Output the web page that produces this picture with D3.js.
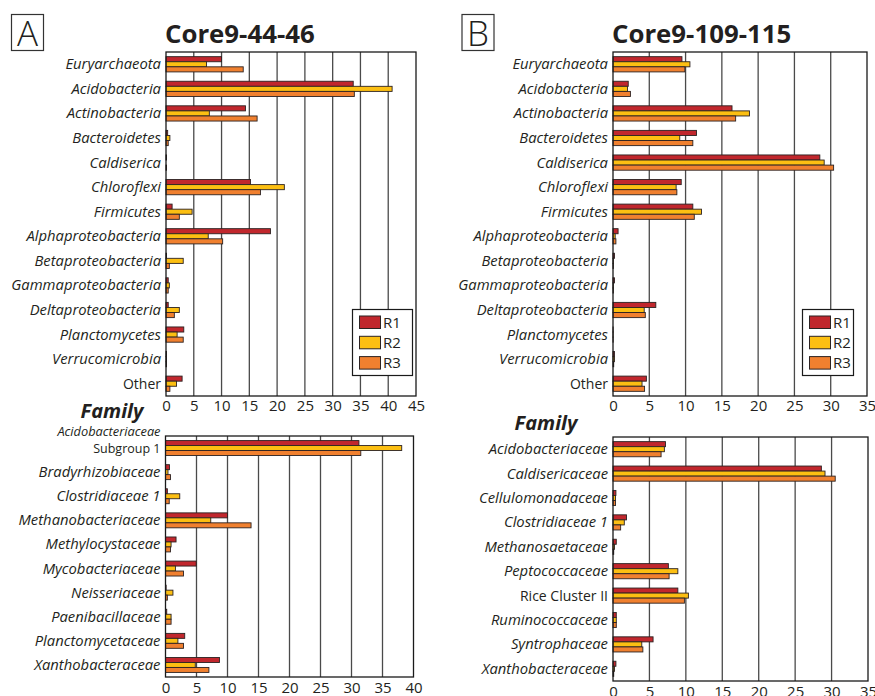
<!DOCTYPE html>
<html>
<head>
<meta charset="utf-8">
<script src="https://cdn.jsdelivr.net/npm/d3@7"></script>
<style>
	body { margin: 0; background: #fff; }
	svg { display: block; font-family: "Open Sans", sans-serif; }
</style>
</head>
<body>
<svg id="svg" width="875" height="696"></svg>
<script>
"use strict";

// replicates shown in every group
const series = ["R1", "R2", "R3"];
const seriesColors = ["#c1272d", "#fcbf12", "#f0802f"];

// phylum / class level categories (same for both cores)
const phyla = [
	"Euryarchaeota",
	"Acidobacteria",
	"Actinobacteria",
	"Bacteroidetes",
	"Caldiserica",
	"Chloroflexi",
	"Firmicutes",
	"Alphaproteobacteria",
	"Betaproteobacteria",
	"Gammaproteobacteria",
	"Deltaproteobacteria",
	"Planctomycetes",
	"Verrucomicrobia",
	"Other",
];

// core 9-44-46, phylum level (%)
const phylaA_R1 = [10.0, 33.7, 14.3, 0.3, 0.1, 15.2, 1.1, 18.8, 0.1, 0.4, 0.4, 3.2, 0.1, 2.9];
const phylaA_R2 = [7.3, 40.7, 7.8, 0.7, 0.0, 21.3, 4.7, 7.6, 3.1, 0.6, 2.4, 2.0, 0.1, 1.9];
const phylaA_R3 = [13.9, 33.9, 16.4, 0.4, 0.1, 17.0, 2.4, 10.2, 0.6, 0.4, 1.5, 3.1, 0.1, 0.7];

// core 9-109-115, phylum level (%)
const phylaB_R1 = [9.5, 2.1, 16.4, 11.5, 28.5, 9.4, 11.0, 0.7, 0.2, 0.2, 5.9, 0.02, 0.2, 4.6];
const phylaB_R2 = [10.6, 2.0, 18.8, 9.2, 29.1, 8.7, 12.2, 0.3, 0.05, 0.05, 4.3, 0.02, 0.2, 4.0];
const phylaB_R3 = [9.9, 2.4, 16.9, 11.0, 30.4, 8.8, 11.2, 0.4, 0.05, 0.05, 4.45, 0.02, 0.1, 4.35];

// core 9-44-46, family level (%)
const familiesA = [
	"Acidobacteriaceae Subgroup 1",
	"Bradyrhizobiaceae",
	"Clostridiaceae 1",
	"Methanobacteriaceae",
	"Methylocystaceae",
	"Mycobacteriaceae",
	"Neisseriaceae",
	"Paenibacillaceae",
	"Planctomycetaceae",
	"Xanthobacteraceae",
];
const familiesA_R1 = [31.2, 0.65, 0.3, 10.0, 1.7, 4.95, 0.1, 0.2, 3.1, 8.7];
const familiesA_R2 = [38.1, 0.4, 2.3, 7.3, 0.9, 1.6, 1.2, 0.9, 2.0, 4.8];
const familiesA_R3 = [31.5, 0.8, 0.6, 13.8, 0.8, 2.9, 0.3, 0.9, 2.9, 7.0];

// core 9-109-115, family level (%)
const familiesB = [
	"Acidobacteriaceae",
	"Caldisericaceae",
	"Cellulomonadaceae",
	"Clostridiaceae 1",
	"Methanosaetaceae",
	"Peptococcaceae",
	"Rice Cluster II",
	"Ruminococcaceae",
	"Syntrophaceae",
	"Xanthobacteraceae",
];
const familiesB_R1 = [7.2, 28.6, 0.4, 1.85, 0.45, 7.6, 8.9, 0.45, 5.5, 0.4];
const familiesB_R2 = [7.05, 29.1, 0.35, 1.55, 0.2, 8.9, 10.35, 0.45, 3.95, 0.2];
const familiesB_R3 = [6.6, 30.5, 0.35, 1.05, 0.1, 7.7, 9.8, 0.45, 4.1, 0.1];

// labels that are not set in italics
const uprightLabels = ["Other", "Rice Cluster II"];

const ink = "#231f20";
const svg = d3.select("#svg");

svg.append("rect").attr("width", 875).attr("height", 696).attr("fill", "#fff");

function drawPanel(sel, params) {
	const g = sel.append("g");

	const x = d3
		.scaleLinear()
		.domain([0, params.max])
		.range([params.x0, params.x1]);
	const y = d3
		.scaleBand()
		.domain(params.cats)
		.range([params.y0, params.y1])
		.paddingInner(0.38)
		.paddingOuter(0.19);
	const ys = d3.scaleBand().domain(series).range([0, y.bandwidth()]);

	const tickVals = d3.range(0, params.max + 1, 5);

	// vertical gridlines
	g.selectAll(".grid")
		.data(tickVals.filter((d) => d > 0 && d < params.max))
		.enter()
		.append("line")
		.attr("x1", (d) => x(d))
		.attr("x2", (d) => x(d))
		.attr("y1", params.y0)
		.attr("y2", params.y1)
		.style("stroke", "#4a4a4a")
		.style("stroke-width", "1.3px");

	// bars, one row per replicate
	const rows = params.cats.flatMap((c, i) =>
		series.map((s, j) => ({ cat: c, s: s, j: j, v: params.values[j][i] }))
	);
	g.selectAll(".bar")
		.data(rows)
		.enter()
		.append("rect")
		.attr("class", "bar")
		.attr("x", x(0))
		.attr("y", (d) => y(d.cat) + ys(d.s))
		.attr("width", (d) => x(d.v) - x(0))
		.attr("height", ys.bandwidth())
		.attr("fill", (d) => seriesColors[d.j])
		.style("stroke", "#2b2222")
		.style("stroke-width", "0.9px");

	// frame
	g.append("rect")
		.attr("x", params.x0)
		.attr("y", params.y0)
		.attr("width", params.x1 - params.x0)
		.attr("height", params.y1 - params.y0)
		.attr("fill", "none")
		.style("stroke", "#1a1a1a")
		.style("stroke-width", "1.3px");

	// axis numbers
	const axis = g
		.append("g")
		.attr("transform", `translate(0,${params.y1})`)
		.call(
			d3
				.axisBottom(x)
				.tickValues(tickVals)
				.tickSize(0)
				.tickPadding(params.pad)
		);
	axis.select(".domain").remove();
	axis.selectAll("text")
		.attr("fill", ink)
		.style("font-size", "15px")
		.style("font-family", '"Open Sans", sans-serif');

	// category labels
	params.cats.forEach((c) => {
		const cy = y(c) + y.bandwidth() / 2;
		const lx = params.x0 - 5;
		if (c.includes(" Subgroup")) {
			const parts = c.split(" Subgroup");
			g.append("text")
				.text(parts[0])
				.attr("x", lx)
				.attr("y", cy - 12)
				.attr("text-anchor", "end")
				.attr("font-style", "italic")
				.attr("font-size", "12.8px")
				.attr("fill", ink);
			g.append("text")
				.text("Subgroup" + parts[1])
				.attr("x", lx)
				.attr("y", cy + 5)
				.attr("text-anchor", "end")
				.attr("font-size", "12.5px")
				.attr("fill", ink);
		} else {
			const upright = uprightLabels.includes(c);
			g.append("text")
				.text(c)
				.attr("x", lx)
				.attr("y", cy + 5)
				.attr("text-anchor", "end")
				.attr("font-style", upright ? "normal" : "italic")
				.attr("font-size", upright ? "14px" : "14.8px")
				.attr("fill", ink);
		}
	});

	if (params.legend) drawLegend(g, params.legend);
}

function drawLegend(g, pos) {
	const legend = g
		.append("g")
		.attr("transform", `translate(${pos[0]},${pos[1]})`);
	legend
		.append("rect")
		.attr("width", pos[2])
		.attr("height", 66)
		.attr("fill", "#fff")
		.style("stroke", "#1a1a1a")
		.style("stroke-width", "1.2px");
	series.forEach((s, i) => {
		legend
			.append("rect")
			.attr("x", 7)
			.attr("y", 6.5 + i * 20.3)
			.attr("width", 21)
			.attr("height", 12.5)
			.attr("fill", seriesColors[i])
			.style("stroke", "#2b2222")
			.style("stroke-width", "1px");
		legend
			.append("text")
			.text(s)
			.attr("x", 30.5)
			.attr("y", 18 + i * 20)
			.attr("font-size", "15px")
			.attr("fill", ink);
	});
}

function panelHeader(letter, title, bx, tx) {
	svg.append("rect")
		.attr("x", bx)
		.attr("y", 14.5)
		.attr("width", 32)
		.attr("height", 36)
		.attr("fill", "none")
		.style("stroke", "#333")
		.style("stroke-width", "1.2px");
	svg.append("text")
		.text(letter)
		.attr("x", bx + 16)
		.attr("y", 46)
		.attr("text-anchor", "middle")
		.attr("font-size", "35px")
		.attr("font-weight", 300)
		.attr("fill", ink);
	svg.append("text")
		.text(title)
		.attr("x", tx)
		.attr("y", 43)
		.attr("font-size", "25.8px")
		.attr("font-weight", "bold")
		.attr("fill", ink);
}

function familyLabel(x, yPos) {
	svg.append("text")
		.text("Family")
		.attr("x", x)
		.attr("y", yPos)
		.attr("text-anchor", "middle")
		.attr("font-size", "20px")
		.attr("font-weight", "bold")
		.attr("font-style", "italic")
		.attr("fill", ink);
}

panelHeader("A", "Core9-44-46", 11.5, 165);
panelHeader("B", "Core9-109-115", 462, 612);

drawPanel(svg, {
	cats: phyla,
	values: [phylaA_R1, phylaA_R2, phylaA_R3],
	max: 45,
	x0: 166,
	x1: 416,
	y0: 52,
	y1: 396,
	pad: 4,
	legend: [352.5, 309.5, 60],
});
drawPanel(svg, {
	cats: phyla,
	values: [phylaB_R1, phylaB_R2, phylaB_R3],
	max: 35,
	x0: 613,
	x1: 867,
	y0: 52,
	y1: 396,
	pad: 4,
	legend: [802.5, 309.5, 51],
});

familyLabel(112, 418);
familyLabel(546, 430);

drawPanel(svg, {
	cats: familiesA,
	values: [familiesA_R1, familiesA_R2, familiesA_R3],
	max: 40,
	x0: 165.5,
	x1: 413.5,
	y0: 436,
	y1: 677,
	pad: 5,
});
drawPanel(svg, {
	cats: familiesB,
	values: [familiesB_R1, familiesB_R2, familiesB_R3],
	max: 35,
	x0: 613,
	x1: 868,
	y0: 437,
	y1: 681,
	pad: 5,
});
</script>
</body>
</html>
